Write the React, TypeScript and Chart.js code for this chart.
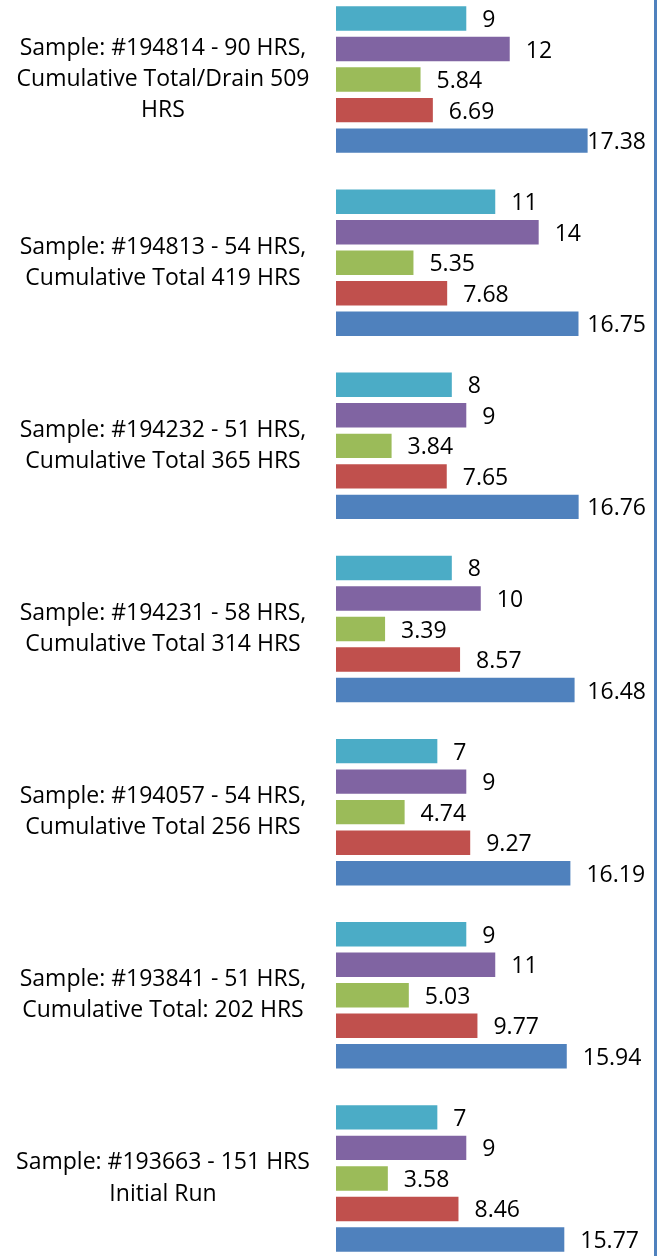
import React, { useEffect, useRef } from "react";
import { Chart, registerables } from "chart.js";

Chart.register(...registerables);

const categories: string[][] = [
  ["Sample: #194814 - 90 HRS,", "Cumulative Total/Drain 509", "HRS"],
  ["Sample: #194813 - 54 HRS,", "Cumulative Total 419 HRS"],
  ["Sample: #194232 - 51 HRS,", "Cumulative Total 365 HRS"],
  ["Sample: #194231 - 58 HRS,", "Cumulative Total 314 HRS"],
  ["Sample: #194057 - 54 HRS,", "Cumulative Total 256 HRS"],
  ["Sample: #193841 - 51 HRS,", "Cumulative Total: 202 HRS"],
  ["Sample: #193663 - 151 HRS", "Initial Run"],
];

const seriesCyan = [9, 11, 8, 8, 7, 9, 7];
const seriesPurple = [12, 14, 9, 10, 9, 11, 9];
const seriesGreen = [5.84, 5.35, 3.84, 3.39, 4.74, 5.03, 3.58];
const seriesRed = [6.69, 7.68, 7.65, 8.57, 9.27, 9.77, 8.46];
const seriesBlue = [17.38, 16.75, 16.76, 16.48, 16.19, 15.94, 15.77];

const xMax = 22;

const FONT = "'Open Sans'";
const FONT_SIZE = 23;

export default function App() {
  const ref = useRef<HTMLCanvasElement>(null);

  useEffect(() => {
    const canvas = ref.current!;
    const measure = document.createElement("canvas").getContext("2d")!;
    measure.font = `${FONT_SIZE}px ${FONT}`;
    let widest = 0;
    categories.forEach((c) => c.forEach((l) => (widest = Math.max(widest, measure.measureText(l).width))));
    const axisWidth = 336;
    const labelCenter = 163;
    const tickPadding = Math.max(0, axisWidth - labelCenter - widest / 2);

    const labelPlugin = {
      id: "valueLabels",
      afterDatasetsDraw(chart: any) {
        const ctx = chart.ctx;
        ctx.save();
        ctx.font = `${FONT_SIZE}px ${FONT}`;
        ctx.fillStyle = "#000000";
        ctx.textBaseline = "middle";
        ctx.textAlign = "left";
        chart.data.datasets.forEach((ds: any, di: number) => {
          const meta = chart.getDatasetMeta(di);
          meta.data.forEach((el: any, i: number) => {
            const txt = String(ds.data[i]);
            const w = ctx.measureText(txt).width;
            let x = el.x + 16;
            if (x + w > 646) x = 646 - w;
            ctx.fillText(txt, x, el.y + 2);
          });
        });
        ctx.restore();
      },
    };

    const borderPlugin = {
      id: "rightLine",
      afterDraw(chart: any) {
        const ctx = chart.ctx;
        const x = Math.round(chart.chartArea.right) + 0.5;
        ctx.save();
        ctx.strokeStyle = "#4f81bd";
        ctx.lineWidth = 3;
        ctx.beginPath();
        ctx.moveTo(x, 0);
        ctx.lineTo(x, chart.height);
        ctx.stroke();
        ctx.restore();
      },
    };

    const chart = new Chart(canvas, {
      type: "bar",
      data: {
        labels: categories,
        datasets: [
          { label: "Series A", data: seriesCyan, backgroundColor: "#4bacc6" },
          { label: "Series B", data: seriesPurple, backgroundColor: "#8064a2" },
          { label: "Series C", data: seriesGreen, backgroundColor: "#9bbb59" },
          { label: "Series D", data: seriesRed, backgroundColor: "#c0504d" },
          { label: "Series E", data: seriesBlue, backgroundColor: "#4f81bd" },
        ],
      },
      options: {
        indexAxis: "y",
        responsive: false,
        animation: false,
        datasets: { bar: { categoryPercentage: 5 / 6, barPercentage: 0.8 } },
        layout: { padding: { left: 0, right: 9.5, top: 0, bottom: 0 } },
        plugins: { legend: { display: false }, tooltip: { enabled: false } },
        scales: {
          x: { display: false, min: 0, max: xMax },
          y: {
            grid: { display: false, drawTicks: false },
            border: { display: false },
            ticks: {
              crossAlign: "center",
              padding: tickPadding,
              color: "#000000",
              font: { family: FONT, size: FONT_SIZE, lineHeight: 1.36 },
              autoSkip: false,
            },
            afterFit(scale: any) {
              scale.width = axisWidth;
              scale.paddingTop = 0;
              scale.paddingBottom = 0;
            },
          },
        },
      },
      plugins: [labelPlugin, borderPlugin],
    } as any);
    return () => chart.destroy();
  }, []);

  return (
    <div style={{ position: "fixed", left: 0, top: 0, width: 664, height: 1256, overflow: "hidden", background: "#fff" }}>
      <canvas ref={ref} width={664} height={1282} style={{ position: "absolute", left: 0, top: -12 }} />
    </div>
  );
}
